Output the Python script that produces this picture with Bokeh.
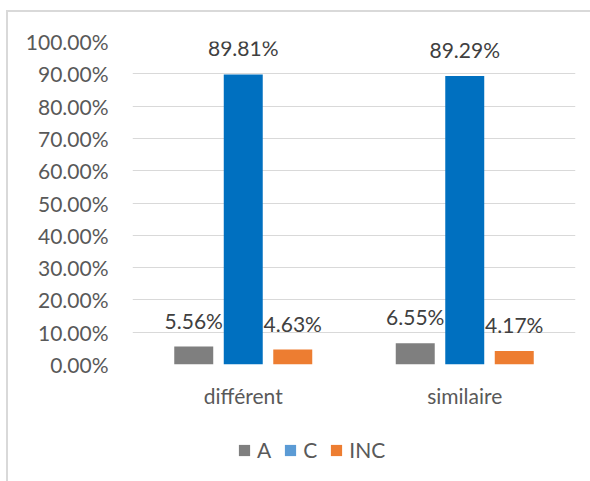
from bokeh.plotting import figure
from bokeh.layouts import column
from bokeh.models import (ColumnDataSource, FactorRange, Range1d, LabelSet, Legend, LegendItem,
                          NumeralTickFormatter, FixedTicker)
from bokeh.transform import dodge
from bokeh.embed import file_html
from bokeh.resources import INLINE
from bokeh.core.properties import value

categories = ["différent", "similaire"]
series_names = ["A", "C", "INC"]
A = [0.0556, 0.0655]
C = [0.8981, 0.8929]
INC = [0.0463, 0.0417]
y_ticks = [0.0, 0.1, 0.2, 0.3, 0.4, 0.5, 0.6, 0.7, 0.8, 0.9, 1.0]

bar_colors = ["#7f7f7f", "#0070c0", "#ed7d31"]
legend_colors = ["#7f7f7f", "#5b9bd5", "#ed7d31"]
FONT = "Lato"
FS = "21px"

src = ColumnDataSource(data=dict(
    cat=categories, A=A, C=C, INC=INC,
    A_lbl=[f"{v*100:.2f}%" for v in A],
    C_lbl=[f"{v*100:.2f}%" for v in C],
    INC_lbl=[f"{v*100:.2f}%" for v in INC],
))

p = figure(x_range=FactorRange(*categories, range_padding=0), y_range=Range1d(0, 1.0),
           width=582, height=413, output_backend="svg", toolbar_location=None,
           min_border_left=124, min_border_right=15, min_border_top=29, min_border_bottom=61)
p.outline_line_color = None
p.background_fill_color = "white"
p.border_fill_color = "white"

offsets = [-0.2235, 0.0, 0.2235]
for name, col, off in zip(series_names, bar_colors, offsets):
    p.vbar(x=dodge("cat", off, range=p.x_range), top=name, width=0.176, source=src,
           fill_color=col, line_color=None)
    labels = LabelSet(x=dodge("cat", off, range=p.x_range), y=name, text=name + "_lbl", source=src,
                      text_align="center", text_baseline="alphabetic", y_offset=18,
                      text_font=value(FONT), text_font_size=FS, text_color="#404040")
    p.add_layout(labels)

p.yaxis.ticker = FixedTicker(ticks=y_ticks)
p.yaxis.formatter = NumeralTickFormatter(format="0.00%")
for ax in [p.xaxis[0], p.yaxis[0]]:
    ax.axis_line_color = None
    ax.major_tick_line_color = None
    ax.minor_tick_line_color = None
    ax.major_tick_in = 0
    ax.major_tick_out = 0
    ax.major_label_text_font = FONT
    ax.major_label_text_font_size = FS
    ax.major_label_text_color = "#595959"
p.yaxis.major_label_standoff = 24
p.xaxis.major_label_standoff = 18

p.xgrid.grid_line_color = None
p.ygrid.grid_line_color = "#d9d9d9"
p.ygrid.grid_line_width = 1

# legend strip below the chart (its zero-width proxy bars lie far outside the visible y range)
lg = figure(width=582, height=56, output_backend="svg", toolbar_location=None,
            x_range=p.x_range, y_range=Range1d(-1000, -999),
            min_border_left=124, min_border_right=15, min_border_top=0, min_border_bottom=0)
lg.axis.visible = False
lg.grid.visible = False
lg.outline_line_color = None
lg.background_fill_color = "white"
lg.border_fill_color = "white"
items = []
for name, col in zip(series_names, legend_colors):
    proxy = lg.vbar(x="cat", top=name, width=0, source=src, fill_color=col, line_color=None)
    items.append(LegendItem(label=name, renderers=[proxy]))
legend = Legend(items=items, orientation="horizontal", location=(105, 19),
                glyph_width=14, glyph_height=14, label_standoff=6, spacing=12, label_width=0,
                padding=0, margin=0, border_line_color=None, background_fill_alpha=0,
                label_text_font=FONT, label_text_font_size=FS, label_text_color="#595959")
lg.add_layout(legend, "center")

layout = column(p, lg, spacing=0,
                styles={"margin-top": "10px", "margin-left": "6px",
                        "border-top": "2px solid #d9d9d9", "border-left": "2px solid #d9d9d9"})

open("out.html", "w").write(file_html(layout, INLINE))
